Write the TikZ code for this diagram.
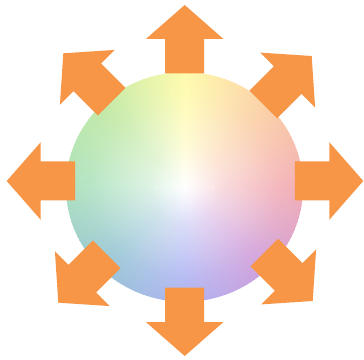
\documentclass[tikz,border=0pt]{standalone}
\usetikzlibrary{fadings}
\definecolor{arroworange}{HTML}{F79646}
% key colours of the wheel at 0,45,...,315 degrees
\definecolor{wk0}{RGB}{238,142,152}
\definecolor{wk1}{RGB}{250,190,132}
\definecolor{wk2}{RGB}{255,250,140}
\definecolor{wk3}{RGB}{172,226,132}
\definecolor{wk4}{RGB}{142,215,166}
\definecolor{wk5}{RGB}{112,176,196}
\definecolor{wk6}{RGB}{142,150,238}
\definecolor{wk7}{RGB}{190,122,205}
\pgfdeclareradialshading{centerfadeshade}{\pgfpoint{0bp}{0bp}}{%
  color(0bp)=(white); color(4bp)=(white!68!black); color(10bp)=(white!36!black);
  color(22bp)=(black); color(50bp)=(black)}
\pgfdeclarefading{centerfade}{\pgfuseshading{centerfadeshade}}
\tikzset{
  bigarrow/.style={fill=arroworange, draw=none},
}
\begin{document}
\begin{tikzpicture}[x=1pt,y=1pt]
\useasboundingbox (0,0) rectangle (364,359);
\coordinate (c) at (184.5,172);
% colour wheel
\begin{scope}
  \clip (c) ellipse [x radius=118.5, y radius=114.7];
  \foreach \a in {0,2,...,358}{
    \pgfmathtruncatemacro{\k}{floor(\a/45)}
    \pgfmathtruncatemacro{\kk}{mod(\k+1,8)}
    \pgfmathtruncatemacro{\p}{100-100*(\a-45*\k)/45}
    \colorlet{wc}{wk\k!\p!wk\kk}
    \fill[wc, shift={(c)}] (0,0) -- (\a-1.3:140) -- (\a+1.3:140) -- cycle;
  }
  \fill[white, path fading=centerfade] (c) ellipse [x radius=237, y radius=229.4];
\end{scope}
% arrows
\foreach \n/\x/\y/\r in {N/184.7/354/90, S/184.7/3/270, E/363.3/178/0, W/6.7/178/180,
                         NE/311.7/303/45, NW/63.3/305.7/135, SW/58.3/56.3/225, SE/312.7/58/315}{
  \coordinate (tip\n) at (\x,\y);
  \fill[bigarrow, shift={(tip\n)}, rotate=\r]
    (0,0) -- (-34,38.8) -- (-34,19.5) -- (-68.5,19.5) -- (-68.5,-19.5)
    -- (-34,-19.5) -- (-34,-38.8) -- cycle;
}
\end{tikzpicture}
\end{document}
